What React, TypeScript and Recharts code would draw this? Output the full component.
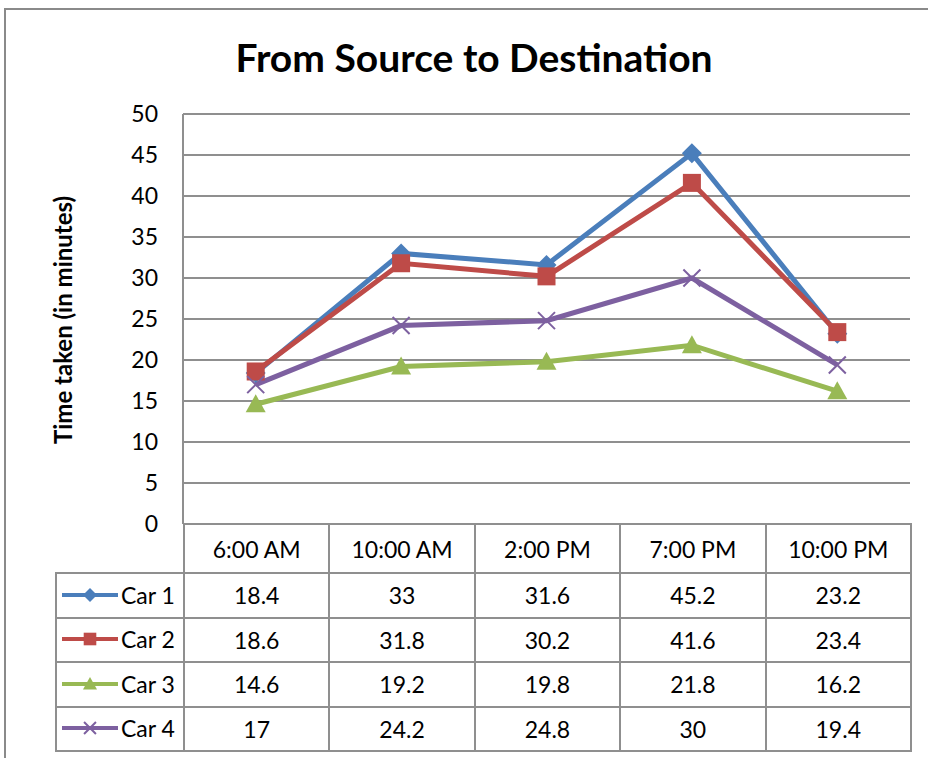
import React from "react";
import { LineChart, Line, XAxis, YAxis, CartesianGrid } from "recharts";

const times = ["6:00 AM", "10:00 AM", "2:00 PM", "7:00 PM", "10:00 PM"];
const car1 = [18.4, 33, 31.6, 45.2, 23.2];
const car2 = [18.6, 31.8, 30.2, 41.6, 23.4];
const car3 = [14.6, 19.2, 19.8, 21.8, 16.2];
const car4 = [17, 24.2, 24.8, 30, 19.4];
const yTicks = [0, 5, 10, 15, 20, 25, 30, 35, 40, 45, 50];

const FONT = "Lato, 'Open Sans', sans-serif";
const GRID = "#8f8f8f";

const series = [
  { key: "car1", name: "Car 1", values: car1, color: "#4A7EBB", shape: "diamond" },
  { key: "car2", name: "Car 2", values: car2, color: "#BE4B48", shape: "square" },
  { key: "car3", name: "Car 3", values: car3, color: "#98B954", shape: "triangle" },
  { key: "car4", name: "Car 4", values: car4, color: "#7D60A0", shape: "x" },
];

const data = times.map((t, i) => {
  const row: any = { time: t };
  series.forEach((s) => (row[s.key] = s.values[i]));
  return row;
});

function Marker({ shape, cx, cy, r, color }: any) {
  if (shape === "diamond")
    return <polygon points={`${cx},${cy - r} ${cx + r},${cy} ${cx},${cy + r} ${cx - r},${cy}`} fill={color} />;
  if (shape === "square")
    return <rect x={cx - r * 0.9} y={cy - r * 0.9} width={r * 1.8} height={r * 1.8} fill={color} />;
  if (shape === "triangle")
    return <polygon points={`${cx},${cy - r} ${cx + r},${cy + r * 0.8} ${cx - r},${cy + r * 0.8}`} fill={color} />;
  return (
    <path
      d={`M${cx - r * 0.85},${cy - r * 0.85}L${cx + r * 0.85},${cy + r * 0.85}M${cx + r * 0.85},${cy - r * 0.85}L${cx - r * 0.85},${cy + r * 0.85}`}
      stroke={color}
      strokeWidth={2}
      fill="none"
    />
  );
}

const cellBorder = `2px solid ${GRID}`;

export default function App() {
  return (
    <div
      style={{
        position: "absolute",
        left: 0,
        top: 0,
        width: 928,
        height: 758,
        overflow: "hidden",
        background: "#fff",
        fontFamily: FONT,
        color: "#000",
      }}
    >
      {/* chart frame, only top/left edges visible */}
      <div
        style={{
          position: "absolute",
          left: 4,
          top: 8,
          width: 1200,
          height: 1200,
          border: "2px solid #8a8a8a",
        }}
      />
      <div
        style={{
          position: "absolute",
          left: 474,
          top: 57,
          transform: "translate(-50%, -50%)",
          fontSize: 39,
          fontWeight: 700,
          whiteSpace: "nowrap",
        }}
      >
        From Source to Destination
      </div>
      <div
        style={{
          position: "absolute",
          left: 62,
          top: 320,
          transform: "translate(-50%, -50%) rotate(-90deg)",
          fontSize: 24,
          fontWeight: 700,
          whiteSpace: "nowrap",
        }}
      >
        Time taken (in minutes)
      </div>

      <div style={{ position: "absolute", left: 0, top: 0 }}>
        <LineChart width={928} height={758} data={data} margin={{ top: 114, right: 18, bottom: 204, left: 143 }}>
          <CartesianGrid vertical={false} stroke={GRID} strokeWidth={2} />
          <XAxis
            dataKey="time"
            height={30}
            tick={false}
            tickLine={false}
            axisLine={{ stroke: GRID, strokeWidth: 2 }}
            padding={{ left: 72.7, right: 72.7 }}
          />
          <YAxis
            width={40}
            domain={[0, 50]}
            ticks={yTicks}
            tickLine={false}
            tickMargin={19}
            axisLine={{ stroke: GRID, strokeWidth: 2 }}
            tick={{ fill: "#000", fontSize: 23, fontFamily: FONT }}
          />
          {series.map((s) => (
            <Line
              key={s.key}
              dataKey={s.key}
              name={s.name}
              stroke={s.color}
              strokeWidth={5}
              isAnimationActive={false}
              dot={(p: any) => (
                <Marker key={`${s.key}-${p.index}`} shape={s.shape} cx={p.cx} cy={p.cy} r={10} color={s.color} />
              )}
              activeDot={false}
            />
          ))}
        </LineChart>
      </div>

      <table
        style={{
          position: "absolute",
          left: 55,
          top: 523,
          width: 856,
          borderCollapse: "collapse",
          tableLayout: "fixed",
          fontSize: 23,
          fontFamily: FONT,
        }}
      >
        <colgroup>
          <col style={{ width: 128 }} />
          {times.map((t) => (
            <col key={t} style={{ width: 145.4 }} />
          ))}
        </colgroup>
        <tbody>
          <tr style={{ height: 49 }}>
            <td style={{ borderRight: cellBorder, borderBottom: cellBorder, padding: 0 }} />
            {times.map((t) => (
              <td key={t} style={{ border: cellBorder, textAlign: "center", padding: 0 }}>
                {t}
              </td>
            ))}
          </tr>
          {series.map((s) => (
            <tr key={s.key} style={{ height: 44.5 }}>
              <td style={{ border: cellBorder, padding: "0 0 0 5px", whiteSpace: "nowrap" }}>
                <span style={{ display: "inline-flex", alignItems: "center" }}>
                  <svg width={56} height={20} style={{ marginRight: 3 }}>
                    <line x1={0} y1={10} x2={56} y2={10} stroke={s.color} strokeWidth={4} />
                    <Marker shape={s.shape} cx={28} cy={10} r={7} color={s.color} />
                  </svg>
                  {s.name}
                </span>
              </td>
              {s.values.map((v, i) => (
                <td key={i} style={{ border: cellBorder, textAlign: "center", padding: 0 }}>
                  {v}
                </td>
              ))}
            </tr>
          ))}
        </tbody>
      </table>
    </div>
  );
}
